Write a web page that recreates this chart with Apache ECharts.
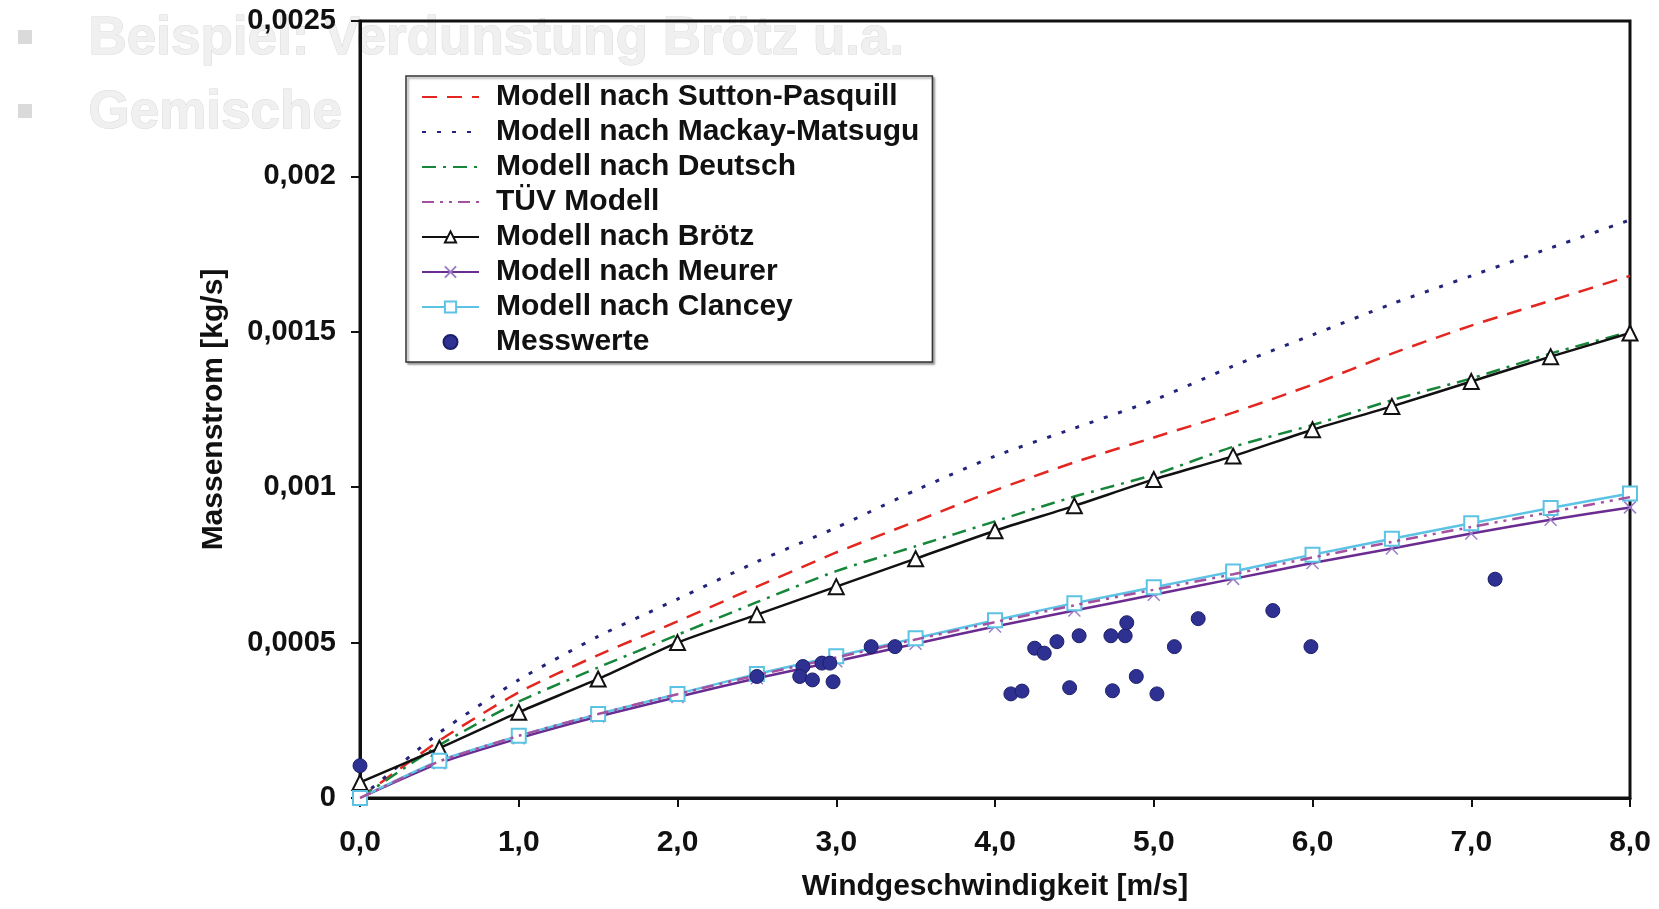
<!DOCTYPE html>
<html>
<head>
<meta charset="utf-8">
<script src="https://cdn.jsdelivr.net/npm/echarts@6/dist/echarts.min.js"></script>
<style>
html,body{margin:0;padding:0;background:#fff;}
#chart{width:1659px;height:909px;}
</style>
</head>
<body>
<div id="chart"></div>
<script>
const windSpeeds = [0, 0.5, 1, 1.5, 2, 2.5, 3, 3.5, 4, 4.5, 5, 5.5, 6, 6.5, 7, 7.5, 8];
const suttonPasquill = [0, 0.000185, 0.00034, 0.00046, 0.000568, 0.00068, 0.00079, 0.00089, 0.00099, 0.00108, 0.00116, 0.00124, 0.00133, 0.00143, 0.00152, 0.0016, 0.00168];
const mackayMatsugu = [0, 0.00021, 0.00038, 0.00052, 0.00064, 0.00076, 0.00087, 0.00099, 0.0011, 0.00119, 0.00128, 0.00139, 0.00149, 0.00159, 0.00168, 0.00177, 0.00186];
const deutsch = [0, 0.00017, 0.00031, 0.00042, 0.000525, 0.00063, 0.00073, 0.00081, 0.00089, 0.00097, 0.00104, 0.00113, 0.0012, 0.00128, 0.00135, 0.00143, 0.0015];
const tuevModell = [0, 0.000118, 0.0002, 0.00027, 0.000334, 0.000395, 0.000452, 0.00051, 0.000566, 0.00062, 0.00067, 0.00072, 0.000774, 0.000824, 0.000872, 0.00092, 0.000968];
const broetz = [0.00005, 0.00016, 0.000276, 0.000383, 0.0005, 0.00059, 0.00068, 0.00077, 0.00086, 0.00094, 0.001025, 0.0011, 0.001185, 0.00126, 0.00134, 0.00142, 0.001496];
const meurer = [0, 0.000112, 0.000192, 0.000262, 0.000325, 0.000385, 0.00044, 0.000496, 0.000552, 0.000603, 0.000654, 0.000705, 0.000756, 0.000803, 0.000851, 0.000895, 0.000935];
const clancey = [0, 0.00012, 0.0002, 0.00027, 0.000335, 0.000399, 0.000456, 0.000514, 0.000572, 0.000627, 0.000678, 0.000729, 0.000783, 0.000834, 0.000884, 0.000933, 0.00098];
const messX = [0.0, 2.5, 2.79, 2.77, 2.85, 2.91, 2.96, 2.98, 3.22, 3.37, 4.10, 4.17, 4.25, 4.31, 4.39, 4.47, 4.53, 4.73, 4.74, 4.82, 4.83, 4.89, 5.02, 5.13, 5.28, 5.75, 5.99, 7.15];
const messY = [0.000104, 0.000391, 0.000423, 0.000391, 0.00038, 0.000434, 0.000434, 0.000374, 0.000487, 0.000487, 0.000335, 0.000344, 0.000482, 0.000466, 0.000503, 0.000355, 0.000522, 0.000522, 0.000345, 0.000522, 0.000564, 0.000391, 0.000335, 0.000487, 0.000577, 0.000603, 0.000487, 0.000704];
const xTickLabels = ['0,0', '1,0', '2,0', '3,0', '4,0', '5,0', '6,0', '7,0', '8,0'];
const yTickLabels = ['0', '0,0005', '0,001', '0,0015', '0,002', '0,0025'];
const seriesNames = ['Modell nach Sutton-Pasquill', 'Modell nach Mackay-Matsugu', 'Modell nach Deutsch', 'TÜV Modell', 'Modell nach Brötz', 'Modell nach Meurer', 'Modell nach Clancey', 'Messwerte'];
const ghostLines = ['Beispiel: Verdunstung Brötz u.a.', 'Gemische'];

const FONT = "'Liberation Sans', Arial, sans-serif";
const pairs = arr => windSpeeds.map((x, i) => [x, arr[i]]);

const chart = echarts.init(document.getElementById('chart'), null, {renderer: 'canvas'});

const lineSeries = (name, data, color, width, type, extra) => Object.assign({
  name: name,
  type: 'line',
  data: pairs(data),
  smooth: 0.2,
  symbol: 'none',
  lineStyle: {color: color, width: width, type: type},
  itemStyle: {color: color},
  emphasis: {disabled: true},
  z: 3
}, extra || {});

const noSymbol = {color: 'rgba(0,0,0,0)', borderColor: 'rgba(0,0,0,0)', borderWidth: 0};
const legendData = seriesNames.map((n, i) => i < 4 ? {name: n, itemStyle: noSymbol} : {name: n});

const option = {
  backgroundColor: '#ffffff',
  animation: false,
  graphic: [
    {type: 'rect', left: 18, top: 30, shape: {width: 14, height: 14}, style: {fill: '#dadada'}, z: -10},
    {type: 'rect', left: 18, top: 104, shape: {width: 14, height: 14}, style: {fill: '#dadada'}, z: -10},
    {type: 'text', left: 88, top: 12, z: -10, style: {text: ghostLines[0], font: 'bold 53px ' + FONT, fill: '#f0f0f0', stroke: '#d9d9d9', lineWidth: 1}},
    {type: 'text', left: 88, top: 86, z: -10, style: {text: ghostLines[1], font: 'bold 53px ' + FONT, fill: '#f0f0f0', stroke: '#d9d9d9', lineWidth: 1}}
  ],
  grid: {left: 360, right: 29, top: 21, bottom: 111, show: true, borderColor: '#111', borderWidth: 3, backgroundColor: 'transparent'},
  legend: {
    orient: 'vertical',
    left: 406,
    top: 76,
    padding: [6, 13, 5, 15],
    itemGap: 5,
    itemWidth: 57,
    itemHeight: 14,
    backgroundColor: '#ffffff',
    borderColor: '#333',
    borderWidth: 1.5,
    shadowColor: 'rgba(0,0,0,0.35)',
    shadowBlur: 2,
    shadowOffsetX: 2,
    shadowOffsetY: 2,
    selectedMode: false,
    data: legendData,
    textStyle: {fontFamily: FONT, fontWeight: 'bold', fontSize: 30, color: '#111', padding: [0, 0, 0, 12], lineHeight: 30}
  },
  xAxis: {
    type: 'value', min: 0, max: 8, interval: 1,
    name: 'Windgeschwindigkeit [m/s]', nameLocation: 'middle', nameGap: 74,
    nameTextStyle: {fontFamily: FONT, fontWeight: 'bold', fontSize: 30, color: '#111'},
    axisLine: {show: true, lineStyle: {color: '#111', width: 3}},
    axisTick: {show: true, inside: false, length: 9, lineStyle: {color: '#111', width: 2}},
    axisLabel: {margin: 30, fontFamily: FONT, fontWeight: 'bold', fontSize: 30, color: '#111',
      formatter: v => xTickLabels[Math.round(v)]},
    splitLine: {show: false}
  },
  yAxis: {
    type: 'value', min: 0, max: 0.0025, interval: 0.0005,
    name: 'Massenstrom [kg/s]', nameLocation: 'middle', nameGap: 131, nameRotate: 90,
    nameTextStyle: {fontFamily: FONT, fontWeight: 'bold', fontSize: 30, color: '#111'},
    axisLine: {show: true, lineStyle: {color: '#111', width: 3}},
    axisTick: {show: true, inside: false, length: 9, lineStyle: {color: '#111', width: 2}},
    axisLabel: {margin: 24, fontFamily: FONT, fontWeight: 'bold', fontSize: 29, color: '#111',
      formatter: v => yTickLabels[Math.round(v / 0.0005)]},
    splitLine: {show: false}
  },
  series: [
    lineSeries(seriesNames[0], suttonPasquill, '#e3261f', 2.5, [15, 10]),
    lineSeries(seriesNames[1], mackayMatsugu, '#23237a', 3, [4, 11]),
    lineSeries(seriesNames[2], deutsch, '#16873a', 2.5, [14, 7, 3, 7]),
    lineSeries(seriesNames[3], tuevModell, '#a4519f', 2.5, [12, 6, 3, 6, 3, 6], {z: 5}),
    lineSeries(seriesNames[4], broetz, '#111111', 2.5, 'solid', {
      symbol: 'emptyTriangle', symbolSize: 15, showSymbol: true,
      itemStyle: {color: '#111111', borderColor: '#111111', borderWidth: 1.5}
    }),
    lineSeries(seriesNames[5], meurer, '#6b2c91', 2.5, 'solid', {
      symbol: 'path://M0,0L10,10M10,0L0,10', symbolSize: 12, showSymbol: true,
      itemStyle: {color: '#9d7cc8', borderColor: '#9d7cc8', borderWidth: 1.5}
    }),
    lineSeries(seriesNames[6], clancey, '#5cc3e4', 2.5, 'solid', {
      symbol: 'emptyRect', symbolSize: 14, showSymbol: true, z: 4,
      itemStyle: {color: '#5cc3e4', borderColor: '#5cc3e4', borderWidth: 2}
    }),
    {
      name: seriesNames[7],
      type: 'scatter',
      data: messX.map((x, i) => [x, messY[i]]),
      symbol: 'circle',
      symbolSize: 14,
      itemStyle: {color: '#2e3192', borderColor: '#1c1f6b', borderWidth: 1, opacity: 1},
      emphasis: {disabled: true},
      z: 6
    }
  ]
};
chart.setOption(option);
</script>
</body>
</html>
